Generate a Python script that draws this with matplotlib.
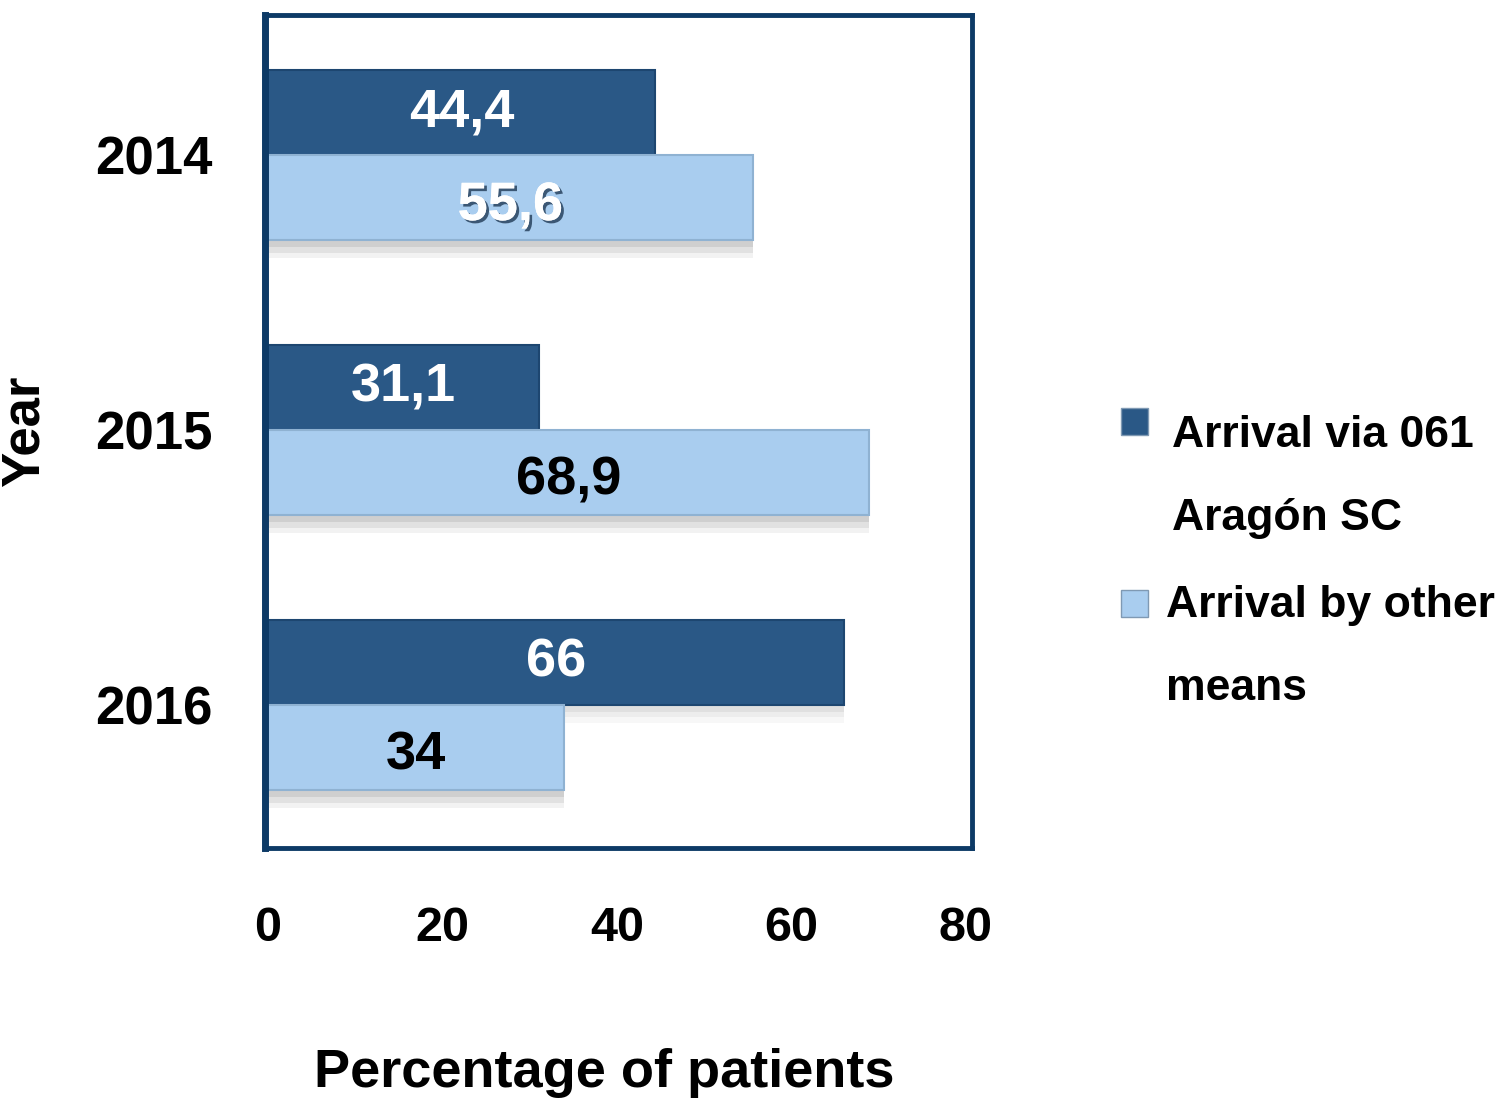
import numpy as np
import matplotlib.pyplot as plt
import matplotlib.patheffects as pe
from matplotlib.patches import Rectangle

years = ['2014', '2015', '2016']
via_061 = [44.4, 31.1, 66.0]
other_means = [55.6, 68.9, 34.0]
via_labels = ['44,4', '31,1', '66']
other_labels = ['55,6', '68,9', '34']
other_label_colors = ['white', 'black', 'black']
legend_labels = ['Arrival via 061\nAragón SC', 'Arrival by other\nmeans']

DARK = '#2a5886'
LIGHT = '#a9cdef'
NAVY = '#0d3a66'

plt.rcParams['font.family'] = ['Liberation Sans', 'DejaVu Sans']
plt.rcParams['font.weight'] = 'bold'

fig = plt.figure(figsize=(15.01, 11.06), dpi=100)
ax = fig.add_axes([0.1766, 0.2333, 0.471, 0.7531])

y = np.arange(len(years))
h = 0.31

# soft, blurred-looking shadows under the bars
for k, a in enumerate([0.18, 0.14, 0.10]):
    off = 0.025 + 0.02 * k
    ax.barh(y - h / 2 + off, via_061, height=h, color='#808080', alpha=a * 0.6, lw=0)
    ax.barh(y + h / 2 + off, other_means, height=h, color='#808080', alpha=a, lw=0)

ax.barh(y - h / 2, via_061, height=h, color=DARK, edgecolor='#1d4670', lw=1.5)
ax.barh(y + h / 2, other_means, height=h, color=LIGHT, edgecolor='#8fb2d2', lw=1.5)

for i in range(len(years)):
    ax.text(via_061[i] / 2, y[i] - h / 2, via_labels[i], ha='center', va='center',
            fontsize=39, fontweight='bold', color='white')
    t = ax.text(other_means[i] / 2, y[i] + h / 2 + 0.03, other_labels[i], ha='center',
                va='center', fontsize=39, fontweight='bold', color=other_label_colors[i])
    if other_label_colors[i] == 'white':
        t.set_path_effects([pe.withSimplePatchShadow(offset=(2, -2), shadow_rgbFace='#203a55',
                                                     alpha=0.8), pe.Normal()])

ax.set_xlim(-0.3, 80.7)
ax.set_ylim(2.52, -0.51)
ax.set_xticks([0, 20, 40, 60, 80])
ax.set_yticks(y)
ax.set_yticklabels(years)
ax.tick_params(axis='x', length=0, pad=42, labelsize=35)
ax.tick_params(axis='y', length=0, pad=38, labelsize=38)
for lab in ax.get_xticklabels() + ax.get_yticklabels():
    lab.set_fontweight('bold')

for s in ax.spines.values():
    s.set_color(NAVY)
    s.set_linewidth(3.5)
ax.spines['left'].set_linewidth(5)

ax.set_ylabel('Year', fontsize=38, fontweight='bold')
ax.yaxis.set_label_coords(-0.305, 0.50)
ax.set_xlabel('Percentage of patients', fontsize=39, fontweight='bold')
ax.xaxis.set_label_coords(0.48, -0.24)

# legend drawn by hand to match the layout
marker_y = [408, 590]
text_y = [415, 585]
text_x = [1172, 1166]
for i, (lab, col) in enumerate(zip(legend_labels, [DARK, LIGHT])):
    fig.patches.append(Rectangle((1121 / 1501, 1 - (marker_y[i] + 27) / 1106), 27 / 1501,
                                 27 / 1106, transform=fig.transFigure, facecolor=col,
                                 edgecolor='#7f99b3', lw=1))
    fig.text(text_x[i] / 1501, 1 - text_y[i] / 1106, lab, fontsize=32, fontweight='bold',
             va='top', ha='left', linespacing=2.3)

fig.savefig('out.png', dpi=100)
